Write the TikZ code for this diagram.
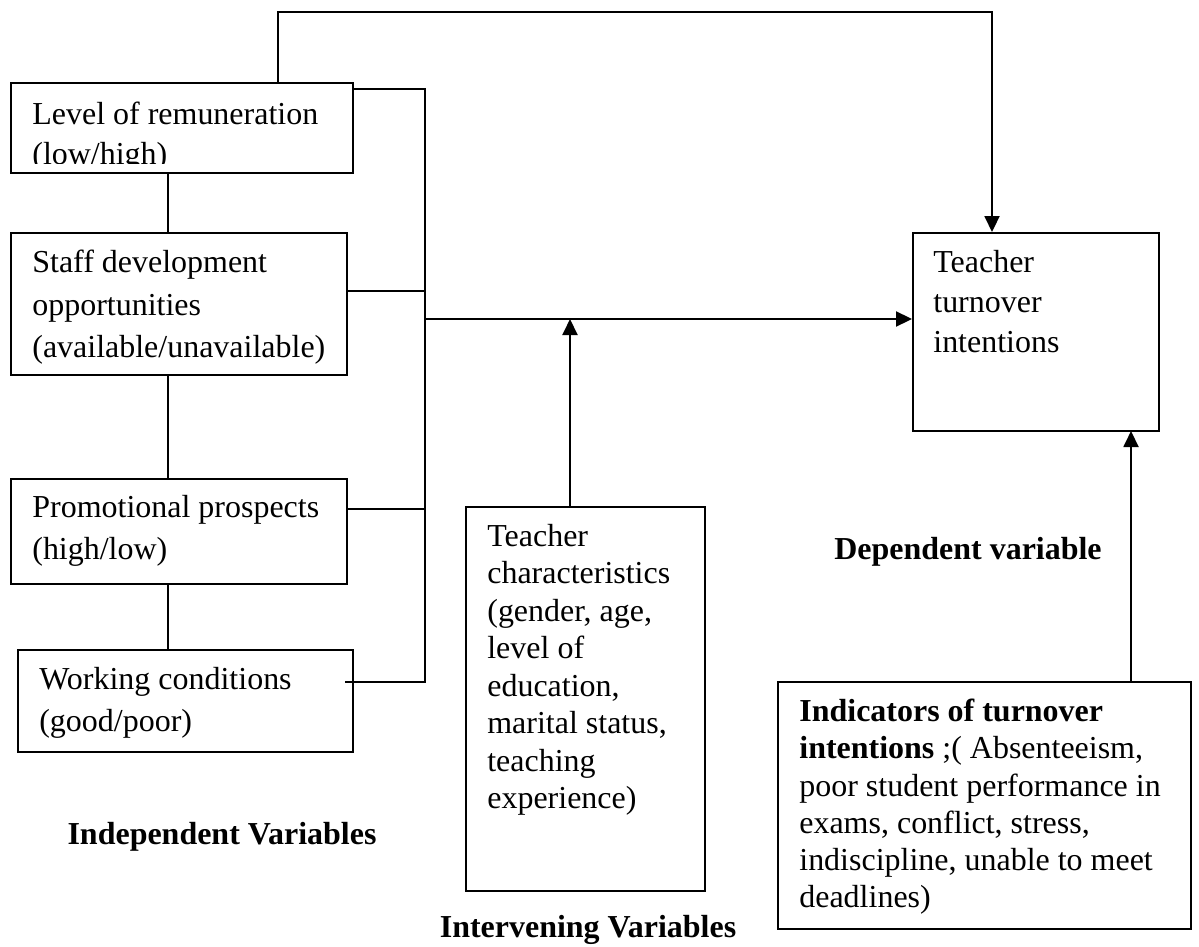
\documentclass[tikz,border=0pt]{standalone}
\usepackage{fontspec}
\setmainfont{Liberation Serif}
\usetikzlibrary{arrows.meta, fit}

\begin{document}
\begin{tikzpicture}[x=0.02cm, y=-0.02cm,
        box/.style={draw, line width=1.1pt, inner sep=0pt},
        txt/.style={anchor=north west, align=left, inner sep=0pt, font=\fontsize{18.2}{22.8}\selectfont},
        lbl/.style={anchor=base, inner sep=0pt, font=\fontsize{18.2}{22.8}\selectfont\bfseries},
        ln/.style={line width=1.1pt},
        arr/.style={line width=1.1pt, -{Triangle[length=0.32cm, width=0.3cm]}}]
            \useasboundingbox (0,0) rectangle (1199,946);

            % boxes
            \node[box, fit={(11,83) (353,173)}] (rem) {};
            \node[box, fit={(11,233) (347,375)}] (staff) {};
            \node[box, fit={(11,479) (347,584)}] (promo) {};
            \node[box, fit={(18,650) (353,752)}] (work) {};
            \node[box, fit={(466,507) (705,891)}] (teach) {};
            \node[box, fit={(913,233) (1159,431)}] (turn) {};
            \node[box, fit={(778,682) (1191,929)}] (ind) {};

            % texts
            \begin{scope}
                \clip (11,83) rectangle (353,163);
                \node[txt] (remtxt) at (32,102) {Level of remuneration\\(low/high)};
            \end{scope}
            \node[txt, font=\fontsize{18.2}{24}\selectfont] (stafftxt) at (32,250) {Staff development\\opportunities\\(available/unavailable)};
            \node[txt, font=\fontsize{18.2}{24}\selectfont] (promotxt) at (32,495) {Promotional prospects\\(high/low)};
            \node[txt, font=\fontsize{18.2}{24}\selectfont] (worktxt) at (39,667) {Working conditions\\(good/poor)};
            \node[txt, font=\fontsize{18.2}{21.3}\selectfont] (teachtxt) at (487,524) {Teacher\\characteristics\\(gender, age,\\level of\\education,\\marital status,\\teaching\\experience)};
            \node[txt] (turntxt) at (933,250) {Teacher\\turnover\\intentions};
            \node[txt, font=\fontsize{18.2}{21.1}\selectfont] (indtxt) at (799,699) {\textbf{Indicators of turnover}\\\textbf{intentions} ;( Absenteeism,\\poor student performance in\\exams, conflict, stress,\\indiscipline, unable to meet\\deadlines)};

            % notation
            \node[lbl] (indep) at (222,844) {Independent Variables};
            \node[lbl] (interv) at (588,937) {Intervening Variables};
            \node[lbl] (dep) at (968,559) {Dependent variable};

            % connectors
            \coordinate (chain) at (168,0);
            \coordinate (bustop) at (425,89);
            \coordinate (busbot) at (425,682);
            \coordinate (jstaff) at (425,291);
            \coordinate (jpromo) at (425,509);
            \coordinate (jmain) at (425,319);
            \coordinate (jchar) at (570,319);
            \coordinate (tl) at (278,12);
            \coordinate (tr) at (992,12);
            \coordinate (jind) at (1131,431);

            \draw[ln] (chain |- rem.south) -- (chain |- staff.north);
            \draw[ln] (chain |- staff.south) -- (chain |- promo.north);
            \draw[ln] (chain |- promo.south) -- (chain |- work.north);

            \draw[ln] (bustop -| rem.east) -- (bustop) -- (busbot) -- (busbot -| work.east) -- ++(-9,0);
            \draw[ln] (staff.east |- jstaff) -- (jstaff);
            \draw[ln] (promo.east |- jpromo) -- (jpromo);

            \draw[arr] (jmain) -- (jmain -| turn.west);
            \draw[arr] (jchar |- teach.north) -- (jchar);
            \draw[arr] (tl |- rem.north) -- (tl) -- (tr) -- (tr |- turn.north);
            \draw[arr] (jind |- ind.north) -- (jind);
        \end{tikzpicture}
\end{document}
